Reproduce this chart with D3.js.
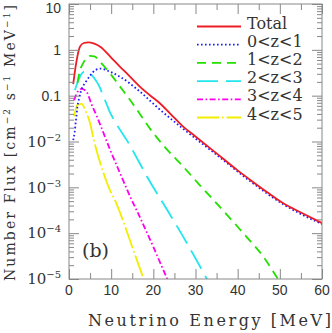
<!DOCTYPE html>
<html>
<head>
<meta charset="utf-8">
<script src="https://cdn.jsdelivr.net/npm/d3@7"></script>
<style>
body{margin:0;background:#fff}
svg{display:block}
</style>
</head>
<body>
<svg></svg>
<script>
// values (energy in MeV, flux in cm^-2 s^-1 MeV^-1)
var totalE = [1.0, 1.7, 2.6, 3.5, 4.6, 6.0, 7.4, 10, 12, 14, 16.8, 19.2, 21.6, 24, 27, 30, 35, 40, 43, 46, 51, 55, 60];
var totalF = [0.178, 0.513, 1.175, 1.41, 1.46, 1.36, 1.17, 0.676, 0.437, 0.288, 0.158, 0.102, 0.0676, 0.0407, 0.0214, 0.0129, 0.0055, 0.00234, 0.00145, 0.000912, 0.000437, 0.000282, 0.000166];

var z01E = [1.0, 1.35, 1.6, 1.83, 2.0, 2.4, 2.8, 4.0, 5.1, 6.3, 7.5, 9.7, 12.1, 16.8, 21.2, 27, 35, 43, 51, 60];
var z01F = [0.0107, 0.0162, 0.0269, 0.0407, 0.0575, 0.0871, 0.123, 0.200, 0.282, 0.363, 0.389, 0.333, 0.259, 0.123, 0.053, 0.0191, 0.00513, 0.00135, 0.000417, 0.000158];

var z12E = [2.0, 2.6, 3.2, 3.8, 5.0, 6.0, 7.35, 9.7, 12, 14.5, 16.8, 19.2, 23, 27.1, 31, 35, 42.1, 46, 49.6, 52];
var z12F = [0.19, 0.355, 0.479, 0.603, 0.741, 0.724, 0.55, 0.309, 0.162, 0.0804, 0.0398, 0.0191, 0.00708, 0.00282, 0.00112, 0.000447, 0.000083, 0.0000316, 0.00001, 0.000005];

var z23E = [1.4, 2.0, 2.8, 3.5, 4.2, 5.0, 6.0, 6.6, 7.3, 8.1, 9.0, 9.7, 10.5, 12, 13.7, 16.8, 19.2, 22, 27.1, 32.7, 34];
var z23F = [0.132, 0.191, 0.282, 0.331, 0.339, 0.302, 0.240, 0.200, 0.151, 0.1, 0.0631, 0.0437, 0.0316, 0.0186, 0.0107, 0.00331, 0.00132, 0.000501, 0.000083, 0.00001, 0.000006];

var z34E = [1.2, 2.0, 3.0, 4.2, 5.4, 6.6, 7.35, 9.7, 12.1, 14.5, 16.4, 20, 23.3, 24.5];
var z34F = [0.0794, 0.120, 0.141, 0.120, 0.0631, 0.0355, 0.024, 0.00676, 0.00204, 0.000631, 0.000269, 0.00005, 0.00001, 0.0000056];

var z45E = [1.2, 2.0, 3.0, 4.0, 5.0, 5.9, 7.35, 9.7, 10.9, 12.5, 15, 17.7, 18.5];
var z45F = [0.0355, 0.0631, 0.0661, 0.0447, 0.0251, 0.0107, 0.00355, 0.00087, 0.000525, 0.000224, 0.00005, 0.00001, 0.0000063];

var legendNames = ["Total", "0<z<1", "1<z<2", "2<z<3", "3<z<4", "4<z<5"];
var xTicks = [0, 10, 20, 30, 40, 50, 60];
var yTicks = [10, 1, 0.1, 0.01, 0.001, 0.0001, 0.00001];
var yTickText = ["10", "1", "0.1", "-2", "-3", "-4", "-5"];

var width = 332;
var height = 333;
var plotL = 69, plotR = 322, plotT = 4, plotB = 279;
var frameColor = "#888";
var textColor = "#333";
var serif = "'DejaVu Serif', serif";
var sans = "'Liberation Sans', Arial, sans-serif";

var svg = d3.select("svg")
    .attr("width", width)
    .attr("height", height);

var xScale = d3.scaleLinear().domain([0, 60]).range([plotL, plotR]);
var yScale = d3.scaleLog().domain([1e-5, 10]).range([plotB, plotT]);

var series = [
    {E: totalE, F: totalF, color: "#ee1c24", dash: null},
    {E: z01E, F: z01F, color: "#1a1aff", dash: "1.6,2.4"},
    {E: z12E, F: z12F, color: "#22e000", dash: "9,6"},
    {E: z23E, F: z23F, color: "#22e6ee", dash: "21,8"},
    {E: z34E, F: z34F, color: "#ff00ee", dash: "6,2.5,1.6,2.5"},
    {E: z45E, F: z45F, color: "#f2ee00", dash: "22,3,1.6,3"}
];

svg.append("clipPath").attr("id", "plotclip")
    .append("rect")
    .attr("x", plotL).attr("y", plotT)
    .attr("width", plotR - plotL).attr("height", plotB - plotT);

var line = d3.line()
    .x(d => xScale(d[0]))
    .y(d => yScale(d[1]))
    .curve(d3.curveMonotoneX);

//curves, drawn back to front so red ends up on top
svg.append("g").attr("clip-path", "url(#plotclip)")
    .selectAll("path")
    .data(series.slice().reverse())
    .enter()
    .append("path")
        .attr("d", d => line(d3.zip(d.E, d.F)))
        .attr("fill", "none")
        .attr("stroke", d => d.color)
        .attr("stroke-width", 1.8)
        .attr("stroke-dasharray", d => d.dash);

//minor tick values
var xMinor = d3.range(5, 60, 10);
var yMinor = yScale.ticks().filter(v => Math.abs(Math.log10(v) - Math.round(Math.log10(v))) > 1e-6);

function tickAxis(axis, vals, size, transform) {
    var g = svg.append("g")
        .attr("transform", transform)
        .call(axis.tickValues(vals).tickSize(-size).tickSizeOuter(0).tickFormat(""));
    g.select(".domain").remove();
    g.selectAll("line").attr("stroke", frameColor);
    return g;
}

tickAxis(d3.axisBottom(xScale), xTicks, 10, "translate(0," + plotB + ")");
tickAxis(d3.axisBottom(xScale), xMinor, 6, "translate(0," + plotB + ")");
tickAxis(d3.axisTop(xScale), xTicks, 10, "translate(0," + plotT + ")");
tickAxis(d3.axisTop(xScale), xMinor, 6, "translate(0," + plotT + ")");
tickAxis(d3.axisLeft(yScale), yTicks, 10, "translate(" + plotL + ",0)");
tickAxis(d3.axisLeft(yScale), yMinor, 5, "translate(" + plotL + ",0)");
tickAxis(d3.axisRight(yScale), yTicks, 10, "translate(" + plotR + ",0)");
tickAxis(d3.axisRight(yScale), yMinor, 5, "translate(" + plotR + ",0)");

//frame
svg.append("rect")
    .attr("x", plotL).attr("y", plotT)
    .attr("width", plotR - plotL).attr("height", plotB - plotT)
    .attr("fill", "none")
    .attr("stroke", frameColor)
    .attr("stroke-width", 1);

//x tick labels
svg.append("g").selectAll("text")
    .data(xTicks)
    .enter()
    .append("text")
        .attr("x", d => xScale(d))
        .attr("y", 295)
        .attr("text-anchor", "middle")
        .style("font-family", sans)
        .style("font-size", "14px")
        .attr("fill", textColor)
        .text(d => d);

//y tick labels, powers written as 10 with a superscript
var yLab = svg.append("g").selectAll("text")
    .data(yTicks)
    .enter()
    .append("text")
        .attr("x", 61)
        .attr("y", d => Math.max(yScale(d), 8))
        .attr("dy", "0.35em")
        .attr("text-anchor", "end")
        .attr("fill", textColor);
yLab.each(function(d, i) {
    var t = d3.select(this);
    var lab = yTickText[i];
    if (lab.charAt(0) == "-") {
        t.style("font-family", serif).style("font-size", "15px");
        t.append("tspan").text("10");
        t.append("tspan").attr("dy", -6).style("font-size", "10px").text("\u2212" + lab.slice(1));
    } else {
        t.style("font-family", sans).style("font-size", "14px").text(lab);
    }
});

//axis titles
svg.append("text")
    .attr("x", 88)
    .attr("y", 326)
    .attr("textLength", 243)
    .attr("lengthAdjust", "spacing")
    .style("font-family", serif)
    .style("font-size", "16px")
    .attr("fill", textColor)
    .text("Neutrino Energy [MeV]");

var yTitle = svg.append("text")
    .attr("transform", "translate(15,143) rotate(-90)")
    .attr("text-anchor", "middle")
    .attr("textLength", 276)
    .attr("lengthAdjust", "spacing")
    .style("font-family", serif)
    .style("font-size", "14px")
    .attr("fill", textColor);
var titleParts = [["Number Flux [cm", 0], ["\u22122", 1], [" s", 0], ["\u22121", 1], [" MeV", 0], ["\u22121", 1], ["]", 0]];
var shift = 0;
titleParts.forEach(function(p) {
    var sp = yTitle.append("tspan").text(p[0]);
    var want = p[1] ? -5 : 0;
    sp.attr("dy", want - shift);
    if (p[1]) sp.style("font-size", "9px");
    shift = want;
});

//panel tag
svg.append("text")
    .attr("x", 82)
    .attr("y", 257)
    .style("font-family", serif)
    .style("font-size", "19px")
    .attr("fill", textColor)
    .text("(b)");

//legend
var legend = svg.append("g").selectAll("g")
    .data(series)
    .enter()
    .append("g")
        .attr("transform", (d, i) => "translate(197," + (26.5 + i * 18.2) + ")");
legend.append("line")
    .attr("x1", 0).attr("x2", 44)
    .attr("stroke", d => d.color)
    .attr("stroke-width", 1.8)
    .attr("stroke-dasharray", d => d.dash);
legend.append("text")
    .attr("x", 50)
    .attr("y", 2)
    .style("font-family", serif)
    .style("font-size", "16px")
    .attr("fill", textColor)
    .text((d, i) => legendNames[i]);
</script>
</body>
</html>
